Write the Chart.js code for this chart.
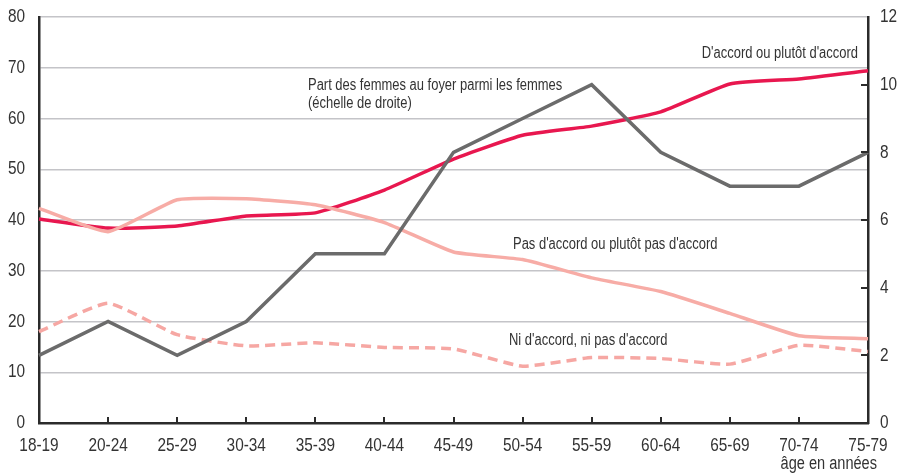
<!DOCTYPE html>
<html lang="fr">

<head>
    <meta charset="utf-8">
    <style>
        html, body { margin: 0; padding: 0; background: #fff; }
        #wrap { position: relative; width: 904px; height: 474px; }
    </style>
</head>

<body>
    <div id="wrap">
        <canvas id="AgeChart" width="904" height="474"></canvas>
    </div>

    <script src="https://cdn.jsdelivr.net/npm/chart.js"></script>

    <script>
        // Age groups (x axis)
        const ageGroups = ['18-19', '20-24', '25-29', '30-34', '35-39', '40-44', '45-49',
            '50-54', '55-59', '60-64', '65-69', '70-74', '75-79'];

        // Opinion shares, left scale (%)
        const accordValues = [40.2, 38.4, 38.8, 40.8, 41.4, 45.9, 52.0, 56.7, 58.5, 61.3, 66.8, 67.8, 69.4];
        const pasAccordValues = [42.3, 37.7, 44.0, 44.2, 43.0, 39.5, 33.7, 32.2, 28.6, 25.9, 21.6, 17.2, 16.6];
        const niNiValues = [18.0, 23.6, 17.4, 15.2, 15.8, 14.9, 14.6, 11.2, 12.9, 12.7, 11.6, 15.3, 14.1];

        // Share of housewives among women, right scale
        const foyerValues = [2, 3, 2, 3, 5, 5, 8, 9, 10, 8, 7, 7, 8];

        // Tick labels
        const leftTicks = [0, 10, 20, 30, 40, 50, 60, 70, 80];
        const rightTicks = [0, 2, 4, 6, 8, 10, 12];

        // no condensed font installed, so text gets squeezed horizontally
        const FONT = '"Liberation Sans", Arial, sans-serif';
        const SQUEEZE = 0.81;
        const AXIS_COLOR = '#2b2b2b';
        const TEXT_COLOR = '#333333';

        function drawText(ctx, str, x, y, align, size) {
            ctx.save();
            ctx.translate(x, y);
            ctx.scale(SQUEEZE, 1);
            ctx.font = size + 'px ' + FONT;
            ctx.textAlign = align;
            ctx.textBaseline = 'middle';
            ctx.fillStyle = TEXT_COLOR;
            ctx.fillText(str, 0, 0);
            ctx.restore();
        }

        // Tick labels, inward tick marks and text labels
        const annotations = {
            id: 'annotations',
            afterDraw(chart) {
                const ctx = chart.ctx;
                const x = chart.scales.x;
                const y = chart.scales.y;
                const yR = chart.scales.yR;
                const area = chart.chartArea;
                ctx.save();

                // small inward tick marks on the bottom axis
                ctx.strokeStyle = AXIS_COLOR;
                ctx.lineWidth = 2;
                for (let i = 1; i < ageGroups.length - 1; i++) {
                    const px = Math.round(x.getPixelForValue(i));
                    ctx.beginPath();
                    ctx.moveTo(px, area.bottom);
                    ctx.lineTo(px, area.bottom - 6);
                    ctx.stroke();
                }
                // inward tick marks on the right axis
                rightTicks.slice(1, -1).forEach(v => {
                    const py = Math.round(yR.getPixelForValue(v));
                    ctx.beginPath();
                    ctx.moveTo(area.right, py);
                    ctx.lineTo(area.right - 7, py);
                    ctx.stroke();
                });
                ctx.restore();

                // axis tick labels
                ageGroups.forEach((g, i) => drawText(ctx, g, x.getPixelForValue(i), area.bottom + 23, 'center', 19));
                leftTicks.forEach(v => drawText(ctx, String(v), area.left - 14, y.getPixelForValue(v), 'right', 19));
                rightTicks.forEach(v => drawText(ctx, String(v), area.right + 12, yR.getPixelForValue(v), 'left', 19));

                // series labels
                drawText(ctx, "D'accord ou plutôt d'accord", 858, 54, 'right', 16);
                drawText(ctx, 'Part des femmes au foyer parmi les femmes', 308, 86, 'left', 16);
                drawText(ctx, '(échelle de droite)', 308, 104, 'left', 16);
                drawText(ctx, "Pas d'accord ou plutôt pas d'accord", 513, 245, 'left', 16);
                drawText(ctx, "Ni d'accord, ni pas d'accord", 509, 341, 'left', 16);

                // axis title
                drawText(ctx, 'âge en années', 877, 464, 'right', 18);
            }
        };

        const ctx = document.getElementById('AgeChart').getContext('2d');
        const myChart = new Chart(ctx, {
            type: 'line',
            data: {
                labels: ageGroups,
                datasets: [{
                    label: 'Part des femmes au foyer parmi les femmes',
                    data: foyerValues,
                    yAxisID: 'yR',
                    borderColor: '#6b6b6b',
                    borderWidth: 3.5,
                    tension: 0,
                    order: 0,
                }, {
                    label: "Pas d'accord ou plutôt pas d'accord",
                    data: pasAccordValues,
                    yAxisID: 'y',
                    borderColor: '#f7aca6',
                    borderWidth: 3.5,
                    tension: 0.15,
                    order: 1,
                }, {
                    label: "Ni d'accord, ni pas d'accord",
                    data: niNiValues,
                    yAxisID: 'y',
                    borderColor: '#f6a7a3',
                    borderWidth: 3.5,
                    borderDash: [10, 6],
                    tension: 0.15,
                    order: 2,
                }, {
                    label: "D'accord ou plutôt d'accord",
                    data: accordValues,
                    yAxisID: 'y',
                    borderColor: '#e8174f',
                    borderWidth: 3.5,
                    tension: 0.15,
                    order: 3,
                }],
            },
            options: {
                responsive: false,
                animation: false,
                layout: { padding: { top: 17, left: 0, right: 0, bottom: 0 } },
                elements: { point: { radius: 0 } },
                plugins: {
                    legend: { display: false },
                    tooltip: { enabled: false },
                },
                scales: {
                    x: {
                        offset: false,
                        grid: { display: false, drawTicks: false },
                        border: { display: true, color: AXIS_COLOR, width: 2.5 },
                        ticks: { display: false, autoSkip: false },
                        afterFit(scale) { scale.height = 51; },
                    },
                    y: {
                        position: 'left',
                        min: 0,
                        max: 80,
                        afterBuildTicks(scale) { scale.ticks = leftTicks.map(v => ({ value: v })); },
                        grid: { color: '#c4c4c8', lineWidth: 1.5, drawTicks: false },
                        border: { display: true, color: AXIS_COLOR, width: 2.5 },
                        ticks: { display: false },
                        afterFit(scale) { scale.width = 39; },
                    },
                    yR: {
                        position: 'right',
                        min: 0,
                        max: 12,
                        afterBuildTicks(scale) { scale.ticks = rightTicks.map(v => ({ value: v })); },
                        grid: { display: false, drawTicks: false },
                        border: { display: true, color: AXIS_COLOR, width: 2.5 },
                        ticks: { display: false },
                        afterFit(scale) { scale.width = 36; },
                    },
                },
            },
            plugins: [annotations],
        });
    </script>
</body>

</html>
